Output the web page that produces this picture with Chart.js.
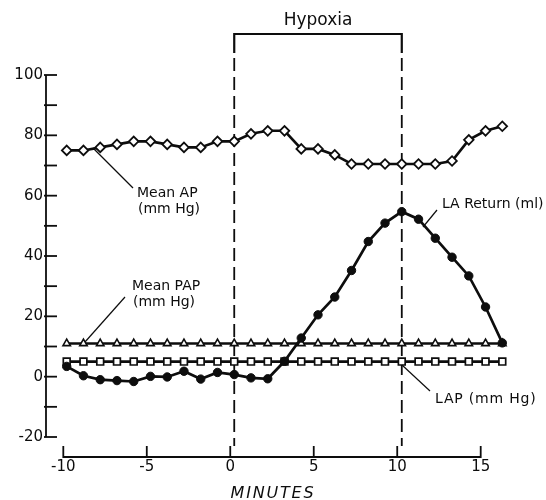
<!DOCTYPE html>
<html><head><meta charset="utf-8">
<script src="https://cdn.jsdelivr.net/npm/chart.js@4"></script>
<style>html,body{margin:0;padding:0;background:#fff}</style>
</head><body>
<canvas id="c" width="546" height="500" style="width:546px;height:500px;display:block"></canvas>
<script>
// ---- data ----
const minutes   = [-10,-9,-8,-7,-6,-5,-4,-3,-2,-1,0,1,2,3,4,5,6,7,8,9,10,11,12,13,14,15,16];
const meanAP    = [75,75,76,77,78,78,77,76,76,78,78,80.5,81.5,81.5,75.5,75.5,73.5,70.5,70.5,70.5,70.5,70.5,70.5,71.5,78.5,81.5,83];
const meanPAP   = [11,11,11,11,11,11,11,11,11,11,11,11,11,11,11,11,11,11,11,11,11,11,11,11,11,11,11];
const lap       = [5,5,5,5,5,5,5,5,5,5,5,5,5,5,5,5,5,5,5,5,5,5,5,5,5,5,5];
const laReturn  = [3.4,0.3,-1,-1.3,-1.6,0.1,-0.1,1.8,-0.8,1.4,0.7,-0.4,-0.7,5.1,12.8,20.5,26.4,35.2,44.8,50.9,54.7,52.2,45.9,39.6,33.4,23.1,11.2];
const xTickValues = [-10,-5,0,5,10,15];
const yTickValues = [-20,0,20,40,60,80,100];
const yMinorTicks = [-10,10,30,50,70,90];
const hypoxia = [0,10];

const INK = '#0d0d0d';
const FONT = '"DejaVu Sans", sans-serif';
const pts = arr => minutes.map((m,i)=>({x:m, y:arr[i]}));

const overlay = {
  id:'overlay',
  beforeDatasetsDraw(chart){
    const {ctx, chartArea, scales:{x, xa, y}} = chart;
    ctx.save();
    ctx.strokeStyle = INK; ctx.lineWidth = 1.8; ctx.lineCap='butt';
    // y axis
    const yx = chartArea.left;
    ctx.beginPath(); ctx.moveTo(yx, y.getPixelForValue(100)); ctx.lineTo(yx, y.getPixelForValue(-20)); ctx.stroke();
    [...yTickValues, ...yMinorTicks].forEach(v=>{
      const py = y.getPixelForValue(v);
      ctx.beginPath(); ctx.moveTo(yx-2, py); ctx.lineTo(yx+11, py); ctx.stroke();
    });
    // x axis
    const ay = chartArea.bottom + 20;
    ctx.beginPath(); ctx.moveTo(xa.getPixelForValue(xTickValues[0]), ay); ctx.lineTo(xa.getPixelForValue(xTickValues[xTickValues.length-1]), ay); ctx.stroke();
    xTickValues.forEach(v=>{
      const px = xa.getPixelForValue(v);
      ctx.beginPath(); ctx.moveTo(px, ay+1); ctx.lineTo(px, ay-11); ctx.stroke();
    });
    // hypoxia bracket + dashed lines
    const h0 = x.getPixelForValue(hypoxia[0]), h1 = x.getPixelForValue(hypoxia[1]);
    ctx.lineWidth = 2.2;
    ctx.beginPath(); ctx.moveTo(h0,53); ctx.lineTo(h0,34); ctx.lineTo(h1,34); ctx.lineTo(h1,53); ctx.stroke();
    ctx.lineWidth = 1.8; ctx.setLineDash([13,6]);
    [h0,h1].forEach(px=>{ ctx.beginPath(); ctx.moveTo(px,58); ctx.lineTo(px,446); ctx.stroke(); });
    ctx.setLineDash([]);
    ctx.restore();
  },
  afterDraw(chart){
    const {ctx, scales:{x, xa}} = chart;
    ctx.save();
    ctx.fillStyle = INK; ctx.strokeStyle = INK; ctx.lineWidth = 1.2;
    const line = (a,b,c,d)=>{ ctx.beginPath(); ctx.moveTo(a,b); ctx.lineTo(c,d); ctx.stroke(); };
    ctx.font = '17px ' + FONT; ctx.textAlign='center'; ctx.textBaseline='alphabetic';
    ctx.fillText('Hypoxia', (x.getPixelForValue(hypoxia[0]) + x.getPixelForValue(hypoxia[1]))/2, 25);
    ctx.font = 'italic 16px ' + FONT;
    ctx.letterSpacing = '1.8px';
    ctx.fillText('MINUTES', (xa.getPixelForValue(-10)+xa.getPixelForValue(15))/2 + 1, 498);
    ctx.letterSpacing = '0px';
    ctx.font = '14px ' + FONT; ctx.textAlign='left';
    line(93,148,133,188);
    ctx.fillText('Mean AP', 137, 197); ctx.fillText('(mm Hg)', 138, 213);
    line(125,297,85,342);
    ctx.fillText('Mean PAP', 132, 290); ctx.fillText('(mm Hg)', 133, 306);
    line(423,227,437,210);
    ctx.fillText('LA Return (ml)', 442, 208);
    line(402,365,430,391);
    ctx.letterSpacing = '0.8px';
    ctx.fillText('LAP (mm Hg)', 435, 403);
    ctx.letterSpacing = '0px';
    ctx.restore();
  }
};

new Chart(document.getElementById('c'), {
  type:'line',
  data:{ datasets:[
    {label:'Mean AP', data:pts(meanAP), borderColor:INK, borderWidth:2.6, pointStyle:'rectRot', pointRadius:4.8, pointBackgroundColor:'#fff', pointBorderColor:INK, pointBorderWidth:1.8, order:3},
    {label:'Mean PAP', data:pts(meanPAP), borderColor:INK, borderWidth:2.6, pointStyle:'triangle', pointRadius:4.3, pointBackgroundColor:'#fff', pointBorderColor:INK, pointBorderWidth:1.6, order:2},
    {label:'LAP', data:pts(lap), borderColor:INK, borderWidth:2.6, pointStyle:'rect', pointRadius:4.8, pointBackgroundColor:'#fff', pointBorderColor:INK, pointBorderWidth:1.7, order:1},
    {label:'LA Return', data:pts(laReturn), borderColor:INK, borderWidth:2.7, pointStyle:'circle', pointRadius:4.2, pointBackgroundColor:INK, pointBorderColor:INK, pointBorderWidth:1, order:0}
  ]},
  options:{
    responsive:false, animation:false, devicePixelRatio:1,
    layout:{padding:{top:75, right:20, bottom:0, left:0}},
    plugins:{legend:{display:false}, tooltip:{enabled:false}},
    elements:{line:{tension:0}},
    scales:{
      x:{type:'linear', display:false, min:-11.2355, max:17.4146},
      xa:{type:'linear', position:'bottom', min:-11.036, max:17.713,
          grid:{display:false, drawTicks:false}, border:{display:false},
          ticks:{font:{family:FONT, size:15}, color:INK, padding:21, maxRotation:0, autoSkip:false},
          afterBuildTicks:s=>{ s.ticks = xTickValues.map(v=>({value:v})); },
          afterFit:s=>{ s.height = 63; }},
      y:{type:'linear', position:'left', min:-20, max:100,
         grid:{display:false, drawTicks:false}, border:{display:false},
         ticks:{font:{family:FONT, size:15}, color:INK, padding:3},
         afterBuildTicks:s=>{ s.ticks = yTickValues.map(v=>({value:v})); },
         afterFit:s=>{ s.width = 46; }}
    }
  },
  plugins:[overlay]
});
</script>
</body></html>
